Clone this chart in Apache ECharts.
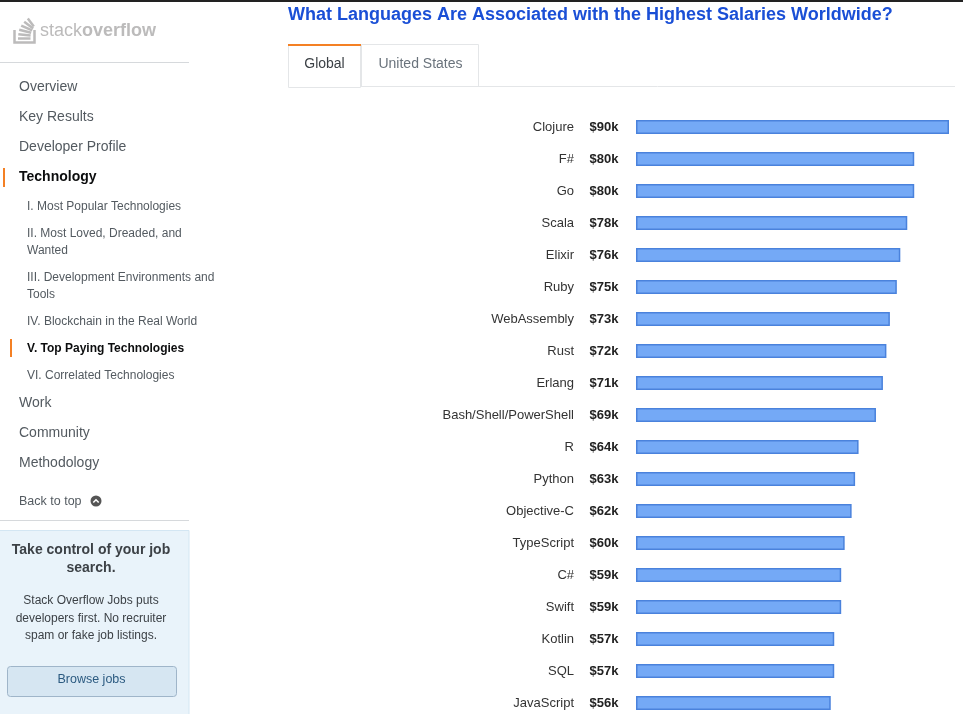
<!DOCTYPE html>
<html>
<head>
<meta charset="utf-8">
<script src="https://cdn.jsdelivr.net/npm/echarts@6/dist/echarts.min.js"></script>
<style>
html,body{margin:0;padding:0;background:#fff;}
#c{width:963px;height:714px;}
</style>
</head>
<body>
<div id="c"></div>
<script>
const languages = ['Clojure','F#','Go','Scala','Elixir','Ruby','WebAssembly','Rust','Erlang','Bash/Shell/PowerShell','R','Python','Objective-C','TypeScript','C#','Swift','Kotlin','SQL','JavaScript'];
const salaries = [90,80,80,78,76,75,73,72,71,69,64,63,62,60,59,59,57,57,56];
const titleText = 'What Languages Are Associated with the Highest Salaries Worldwide?';
const tabs = ['Global','United States'];
const menuMain = ['Overview','Key Results','Developer Profile','Technology'];
const menuSub = [['I. Most Popular Technologies'],['II. Most Loved, Dreaded, and','Wanted'],['III. Development Environments and','Tools'],['IV. Blockchain in the Real World'],['V. Top Paying Technologies'],['VI. Correlated Technologies']];
const menuTail = ['Work','Community','Methodology'];

const FONT = "'Liberation Sans', Helvetica, Arial, sans-serif";
const chart = echarts.init(document.getElementById('c'));

const g = [];
function txt(x, y, text, size, color, weight, align) {
  g.push({type:'text', x:x, y:y, silent:true, style:{text:text, fill:color, font:(weight||'normal')+' '+size+'px '+FONT, align:align||'left', verticalAlign:'middle'}});
}
function rect(x,y,w,h,fill,stroke,r){
  g.push({type:'rect', silent:true, shape:{x:x,y:y,width:w,height:h,r:r||0}, style:{fill:fill, stroke:stroke||null, lineWidth:1}});
}
function line(x1,y1,x2,y2,color,w){
  g.push({type:'line', silent:true, shape:{x1:x1,y1:y1,x2:x2,y2:y2}, style:{stroke:color, lineWidth:w||1}});
}
// top dark border
rect(0,0,963,2,'#222');
// logo
g.push({type:'polyline', silent:true, shape:{points:[[14.5,30],[14.5,42.5],[34.5,42.5],[34.5,30]]}, style:{stroke:'#bcbbbb', lineWidth:2.5, fill:null}});
line(18,38.5,30.5,38.5,'#bcbbbb',2.5);
line(18.3,34.2,30.6,35.6,'#bcbbbb',2.5);
line(19.2,29.8,31.2,32.8,'#bcbbbb',2.5);
line(21.2,25.6,32.2,30.4,'#bcbbbb',2.5);
line(24.2,21.8,33.2,28.4,'#bcbbbb',2.5);
line(27.8,18.6,33.8,26.6,'#bcbbbb',2.5);
g.push({type:'text', x:40, y:31.5, silent:true, style:{text:'{a|stack}{b|overflow}', verticalAlign:'middle', rich:{a:{fontSize:18, fontFamily:FONT, fill:'#bcbbbb', color:'#bcbbbb'}, b:{fontSize:18, fontFamily:FONT, fontWeight:'bold', fill:'#bcbbbb', color:'#bcbbbb'}}}});
line(0,62.5,189,62.5,'#d6d9dc',1);
// main menu
menuMain.forEach((m,i)=>{
  const isActive = (m==='Technology');
  txt(19, 87.5+30*i, m, 14, isActive?'#0c0d0e':'#535a60', isActive?'bold':'normal');
});
rect(3,168,2,19,'#f48024');
// sub menu
const subY = [[206],[233,250],[277,294],[321],[348],[375]];
menuSub.forEach((lines,i)=>{
  const active = lines[0].startsWith('V. ');
  lines.forEach((l,j)=>txt(27, subY[i][j]+0.5, l, 12, active?'#0c0d0e':'#535a60', active?'bold':'normal'));
});
rect(10,339,2,18,'#f48024');
menuTail.forEach((m,i)=>txt(19, 403.5+30*i, m, 14, '#535a60'));
txt(19, 501.5, 'Back to top', 12.5, '#535a60');
g.push({type:'circle', silent:true, shape:{cx:96,cy:501,r:5.5}, style:{fill:'#555'}});
g.push({type:'polyline', silent:true, shape:{points:[[93.3,502.5],[96,499.8],[98.7,502.5]]}, style:{stroke:'#fff', lineWidth:1.6, fill:null}});
line(0,520.5,189,520.5,'#d6d9dc',1);
// jobs box
rect(-1,530.5,190,200,'#e9f3fa','#d3e6f3');
g.push({type:'text', x:91, y:550.5, silent:true, style:{text:'Take control of your job', fill:'#3c4146', font:'bold 14px '+FONT, align:'center', verticalAlign:'middle'}});
g.push({type:'text', x:91, y:568.5, silent:true, style:{text:'search.', fill:'#3c4146', font:'bold 14px '+FONT, align:'center', verticalAlign:'middle'}});
['Stack Overflow Jobs puts','developers first. No recruiter','spam or fake job listings.'].forEach((l,i)=>txt(91, 601+17.5*i, l, 12, '#3c4146', 'normal', 'center'));
rect(7.5,666.5,169,30,'#d6e6f2','#9fb5c9',3);
txt(91.5, 680, 'Browse jobs', 12.5, '#2b5a80', 'normal', 'center');
// tabs
rect(288.5,44.5,72,43,'#fff','#e4e6e8');
rect(361.5,44.5,117,42,'#fff','#e4e6e8');
line(360,86.5,955,86.5,'#e4e6e8',1);
rect(288,44,73,2,'#f48024');
txt(324.5, 64.5, tabs[0], 14, '#3c4146', 'normal', 'center');
txt(420.5, 64.5, tabs[1], 14, '#6a737c', 'normal', 'center');

chart.setOption({
  animation:false,
  title:{text:titleText, left:288, top:6, padding:0, textStyle:{fontFamily:FONT, fontSize:18, fontWeight:'bold', color:'#1a4fd6'}},
  grid:{left:636, top:111, width:313, height:608, containLabel:false, outerBoundsMode:'none'},
  xAxis:{type:'value', min:0, max:90, show:false},
  yAxis:{type:'category', data:languages, inverse:true,
    axisLine:{show:false}, axisTick:{show:false}, splitLine:{show:false},
    axisLabel:{margin:17, formatter:(v,i)=>'{n|'+v+'}{v|$'+salaries[i]+'k}',
      rich:{n:{fontFamily:FONT, fontSize:13, color:'#333', padding:[0,15,0,0]}, v:{fontFamily:FONT, fontSize:13, fontWeight:'bold', color:'#222', width:30, align:'left'}}}},
  series:[{type:'bar', data:salaries, barWidth:14, silent:true,
    itemStyle:{color:'#74a9f6', borderColor:'#4a82dc', borderWidth:1.5}}],
  graphic:g
});
</script>
</body>
</html>
